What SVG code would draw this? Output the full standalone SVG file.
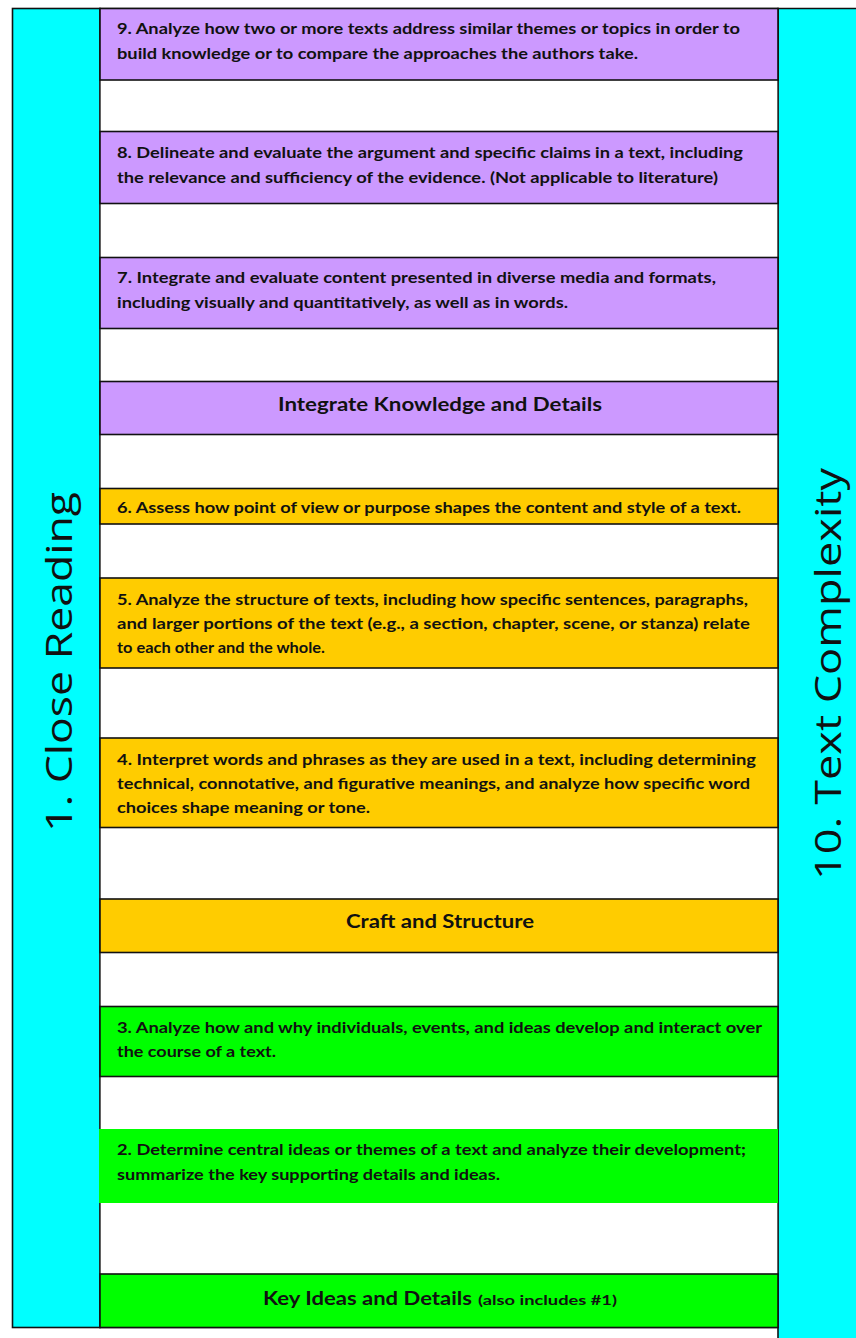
<svg xmlns="http://www.w3.org/2000/svg" width="856" height="1338" viewBox="0 0 856 1338">
<style>
.side{fill:#00ffff;stroke:#111;stroke-width:1.6}
.p{fill:#cc99ff;stroke:#111;stroke-width:1.6}
.o{fill:#ffcc00;stroke:#111;stroke-width:1.6}
.g{fill:#00ff00;stroke:#111;stroke-width:1.6}
.w{fill:#ffffff;stroke:#222;stroke-width:1.4}
.t{font-family:Lato,"Open Sans","Liberation Sans",sans-serif;font-weight:bold;font-size:14.5px;fill:#111}
.h{font-family:Lato,"Open Sans","Liberation Sans",sans-serif;font-weight:bold;font-size:18px;fill:#111;text-anchor:middle}
.s{font-family:Lato,"Open Sans","Liberation Sans",sans-serif;font-weight:bold;font-size:13px;fill:#111}
.big{font-family:"Open Sans",Lato,"Liberation Sans",sans-serif;font-size:36px;fill:#111;text-anchor:middle}
</style>
<rect x="0" y="0" width="856" height="1338" fill="#ffffff"/>
<g id="close-reading">
<rect class="side" x="12.5" y="8.5" width="87.5" height="1319"/>
<text class="big" transform="translate(72,662) rotate(-90)" textLength="340" lengthAdjust="spacingAndGlyphs">1. Close Reading</text>
</g>
<g id="text-complexity">
<path d="M856,8.5 H778 V1338 H856 Z" fill="#00ffff"/>
<path d="M856,8.5 H778 V1338" fill="none" stroke="#111" stroke-width="1.6"/>
<text class="big" transform="translate(841,674) rotate(-90)" textLength="412" lengthAdjust="spacingAndGlyphs">10. Text Complexity</text>
</g>
<g id="center-column">
<rect class="w" x="100" y="8.5" width="678" height="1319"/>
</g>
<g id="std9">
<rect class="p" x="100" y="8.5" width="678" height="71.5"/>
<text class="t" x="117" y="34" textLength="623" lengthAdjust="spacingAndGlyphs">9. Analyze how two or more texts address similar themes or topics in order to</text>
<text class="t" x="117" y="59" textLength="521" lengthAdjust="spacingAndGlyphs">build knowledge or to compare the approaches the authors take.</text>
</g>
<g id="std8">
<rect class="p" x="100" y="131.5" width="678" height="72"/>
<text class="t" x="117" y="158" textLength="626" lengthAdjust="spacingAndGlyphs">8. Delineate and evaluate the argument and specific claims in a text, including</text>
<text class="t" x="117" y="183" textLength="601" lengthAdjust="spacingAndGlyphs">the relevance and sufficiency of the evidence. (Not applicable to literature)</text>
</g>
<g id="std7">
<rect class="p" x="100" y="257.5" width="678" height="71"/>
<text class="t" x="117" y="283" textLength="599" lengthAdjust="spacingAndGlyphs">7. Integrate and evaluate content presented in diverse media and formats,</text>
<text class="t" x="117" y="308" textLength="451" lengthAdjust="spacingAndGlyphs">including visually and quantitatively, as well as in words.</text>
</g>
<g id="integrate-header">
<rect class="p" x="100" y="381.5" width="678" height="53"/>
<text class="h" x="440" y="411" textLength="324" lengthAdjust="spacingAndGlyphs">Integrate Knowledge and Details</text>
</g>
<g id="std6">
<rect class="o" x="100" y="488.5" width="678" height="35.5"/>
<text class="t" x="117" y="513" textLength="624" lengthAdjust="spacingAndGlyphs">6. Assess how point of view or purpose shapes the content and style of a text.</text>
</g>
<g id="std5">
<rect class="o" x="100" y="578" width="678" height="90"/>
<text class="t" x="117" y="605" textLength="631" lengthAdjust="spacingAndGlyphs">5. Analyze the structure of texts, including how specific sentences, paragraphs,</text>
<text class="t" x="117" y="629" textLength="633" lengthAdjust="spacingAndGlyphs">and larger portions of the text (e.g., a section, chapter, scene, or stanza) relate</text>
<text class="t" x="117" y="653" textLength="208" lengthAdjust="spacingAndGlyphs">to each other and the whole.</text>
</g>
<g id="std4">
<rect class="o" x="100" y="738" width="678" height="89.5"/>
<text class="t" x="117" y="765" textLength="639" lengthAdjust="spacingAndGlyphs">4. Interpret words and phrases as they are used in a text, including determining</text>
<text class="t" x="117" y="789" textLength="633" lengthAdjust="spacingAndGlyphs">technical, connotative, and figurative meanings, and analyze how specific word</text>
<text class="t" x="117" y="813" textLength="253" lengthAdjust="spacingAndGlyphs">choices shape meaning or tone.</text>
</g>
<g id="craft-header">
<rect class="o" x="100" y="899" width="678" height="53.5"/>
<text class="h" x="440" y="928" textLength="188" lengthAdjust="spacingAndGlyphs">Craft and Structure</text>
</g>
<g id="std3">
<rect class="g" x="100" y="1006.5" width="678" height="70"/>
<text class="t" x="117" y="1033" textLength="645" lengthAdjust="spacingAndGlyphs">3. Analyze how and why individuals, events, and ideas develop and interact over</text>
<text class="t" x="117" y="1057" textLength="159" lengthAdjust="spacingAndGlyphs">the course of a text.</text>
</g>
<g id="std2">
<rect x="99" y="1129" width="679" height="74" fill="#00ff00"/>
<text class="t" x="117" y="1155" textLength="629" lengthAdjust="spacingAndGlyphs">2. Determine central ideas or themes of a text and analyze their development;</text>
<text class="t" x="117" y="1180" textLength="383" lengthAdjust="spacingAndGlyphs">summarize the key supporting details and ideas.</text>
</g>
<g id="key-header">
<rect class="g" x="100" y="1274" width="678" height="53.5"/>
<text x="263" y="1305"><tspan class="h" style="text-anchor:start" textLength="209" lengthAdjust="spacingAndGlyphs">Key Ideas and Details</tspan></text>
<text class="s" x="478" y="1305" textLength="139" lengthAdjust="spacingAndGlyphs">(also includes #1)</text>
</g>
<g id="connectors"/>
</svg>
